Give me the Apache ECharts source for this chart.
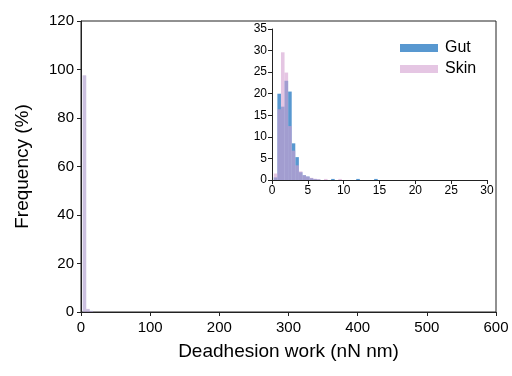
<!DOCTYPE html>
<html>
<head>
<meta charset="utf-8">
<script src="https://cdn.jsdelivr.net/npm/echarts@6/dist/echarts.min.js"></script>
<style>html,body{margin:0;padding:0;background:#fff;}#c{width:512px;height:376px;}</style>
</head>
<body>
<div id="c"></div>
<script>
// Main histogram (bin width 5)
var mainBinWidth = 5;
var mainCenters = [5, 10, 15];
var mainGut = [97.5, 1.2, 0.5];
var mainSkin = [97.6, 1.3, 0.4];
var mainXTicks = [0, 100, 200, 300, 400, 500, 600];
var mainYTicks = [0, 20, 40, 60, 80, 100, 120];

// Inset histogram (bin width 0.5)
var insetBinWidth = 0.5;
var insetCenters = [0.5, 1, 1.5, 2, 2.5, 3, 3.5, 4, 4.5, 5, 5.5, 6, 6.5, 7.5, 8.5, 9.5, 12, 14.5];
var insetGut =  [0.6, 20, 17, 23, 20.5, 8.5, 5.3, 1.8, 1.1, 0.8, 0.4, 0.2, 0.1, 0, 0.25, 0, 0.25, 0.25];
var insetSkin = [1.5, 16.4, 29.6, 24.9, 12.5, 6.8, 3.4, 2.0, 1.1, 0.8, 0.5, 0.3, 0.2, 0.25, 0, 0.25, 0, 0];
var insetXTicks = [0, 5, 10, 15, 20, 25, 30];
var insetYTicks = [0, 5, 10, 15, 20, 25, 30, 35];

var FONT = 'Liberation Sans, Arial, sans-serif';

function pairs(c, v) { return c.map(function (x, i) { return [x, v[i]]; }); }
function histRender(w) {
  return function (params, api) {
    var c = api.value(0), v = api.value(1);
    if (!v) return null;
    var p0 = api.coord([c - w / 2, v]);
    var p1 = api.coord([c + w / 2, 0]);
    return {
      type: 'rect',
      shape: { x: p0[0], y: p0[1], width: p1[0] - p0[0], height: p1[1] - p0[1] },
      style: api.style()
    };
  };
}

var axisCommon = function (ticks, fs, margin) {
  return {
    min: ticks[0], max: ticks[ticks.length - 1], interval: ticks[1] - ticks[0],
    axisLine: { show: true, onZero: false, lineStyle: { color: '#222', width: 1 } },
    axisTick: { show: true, inside: false, length: 4, lineStyle: { color: '#222' } },
    axisLabel: { fontSize: fs, color: '#000', fontFamily: FONT, margin: margin },
    splitLine: { show: false }
  };
};

var chart = echarts.init(document.getElementById('c'), null, { renderer: 'canvas' });

var xMain = Object.assign(axisCommon(mainXTicks, 15, 8), {
  type: 'value', gridIndex: 0,
  name: 'Deadhesion work (nN nm)', nameLocation: 'middle', nameGap: 30,
  nameTextStyle: { fontSize: 19, color: '#000', fontFamily: FONT }
});
var yMain = Object.assign(axisCommon(mainYTicks, 15, 7), {
  type: 'value', gridIndex: 0,
  name: 'Frequency (%)', nameLocation: 'middle', nameGap: 49,
  nameTextStyle: { fontSize: 19, color: '#000', fontFamily: FONT }
});
var xInset = Object.assign(axisCommon(insetXTicks, 12, 5), { type: 'value', gridIndex: 1 });
var yInset = Object.assign(axisCommon(insetYTicks, 12, 5), { type: 'value', gridIndex: 1 });

chart.setOption({
  animation: false,
  backgroundColor: '#fff',
  grid: [
    { left: 81, right: 16, top: 21, bottom: 64, show: true, borderColor: '#222', borderWidth: 1, backgroundColor: 'transparent' },
    { left: 272, right: 25, top: 29, bottom: 196, show: false }
  ],
  xAxis: [xMain, xInset],
  yAxis: [yMain, yInset],
  legend: {
    data: ['Gut', 'Skin'],
    orient: 'vertical', left: 395, top: 35,
    itemWidth: 38, itemHeight: 8, itemGap: 5, icon: 'rect',
    textStyle: { fontSize: 16, color: '#000', fontFamily: FONT, padding: [0, 0, 0, 2] }
  },
  series: [
    { name: 'Gut main', type: 'custom', xAxisIndex: 0, yAxisIndex: 0,
      renderItem: histRender(mainBinWidth), encode: { x: 0, y: 1 },
      itemStyle: { color: 'rgba(91,155,213,0.35)' }, data: pairs(mainCenters, mainGut) },
    { name: 'Skin main', type: 'custom', xAxisIndex: 0, yAxisIndex: 0,
      renderItem: histRender(mainBinWidth), encode: { x: 0, y: 1 },
      itemStyle: { color: 'rgba(210,160,205,0.45)' }, data: pairs(mainCenters, mainSkin) },
    { name: 'Gut', type: 'custom', xAxisIndex: 1, yAxisIndex: 1,
      renderItem: histRender(insetBinWidth), encode: { x: 0, y: 1 },
      itemStyle: { color: 'rgba(88,152,208,1)' }, data: pairs(insetCenters, insetGut) },
    { name: 'Skin', type: 'custom', xAxisIndex: 1, yAxisIndex: 1,
      renderItem: histRender(insetBinWidth), encode: { x: 0, y: 1 },
      itemStyle: { color: 'rgba(212,160,208,0.6)' }, data: pairs(insetCenters, insetSkin) }
  ]
});
</script>
</body>
</html>
